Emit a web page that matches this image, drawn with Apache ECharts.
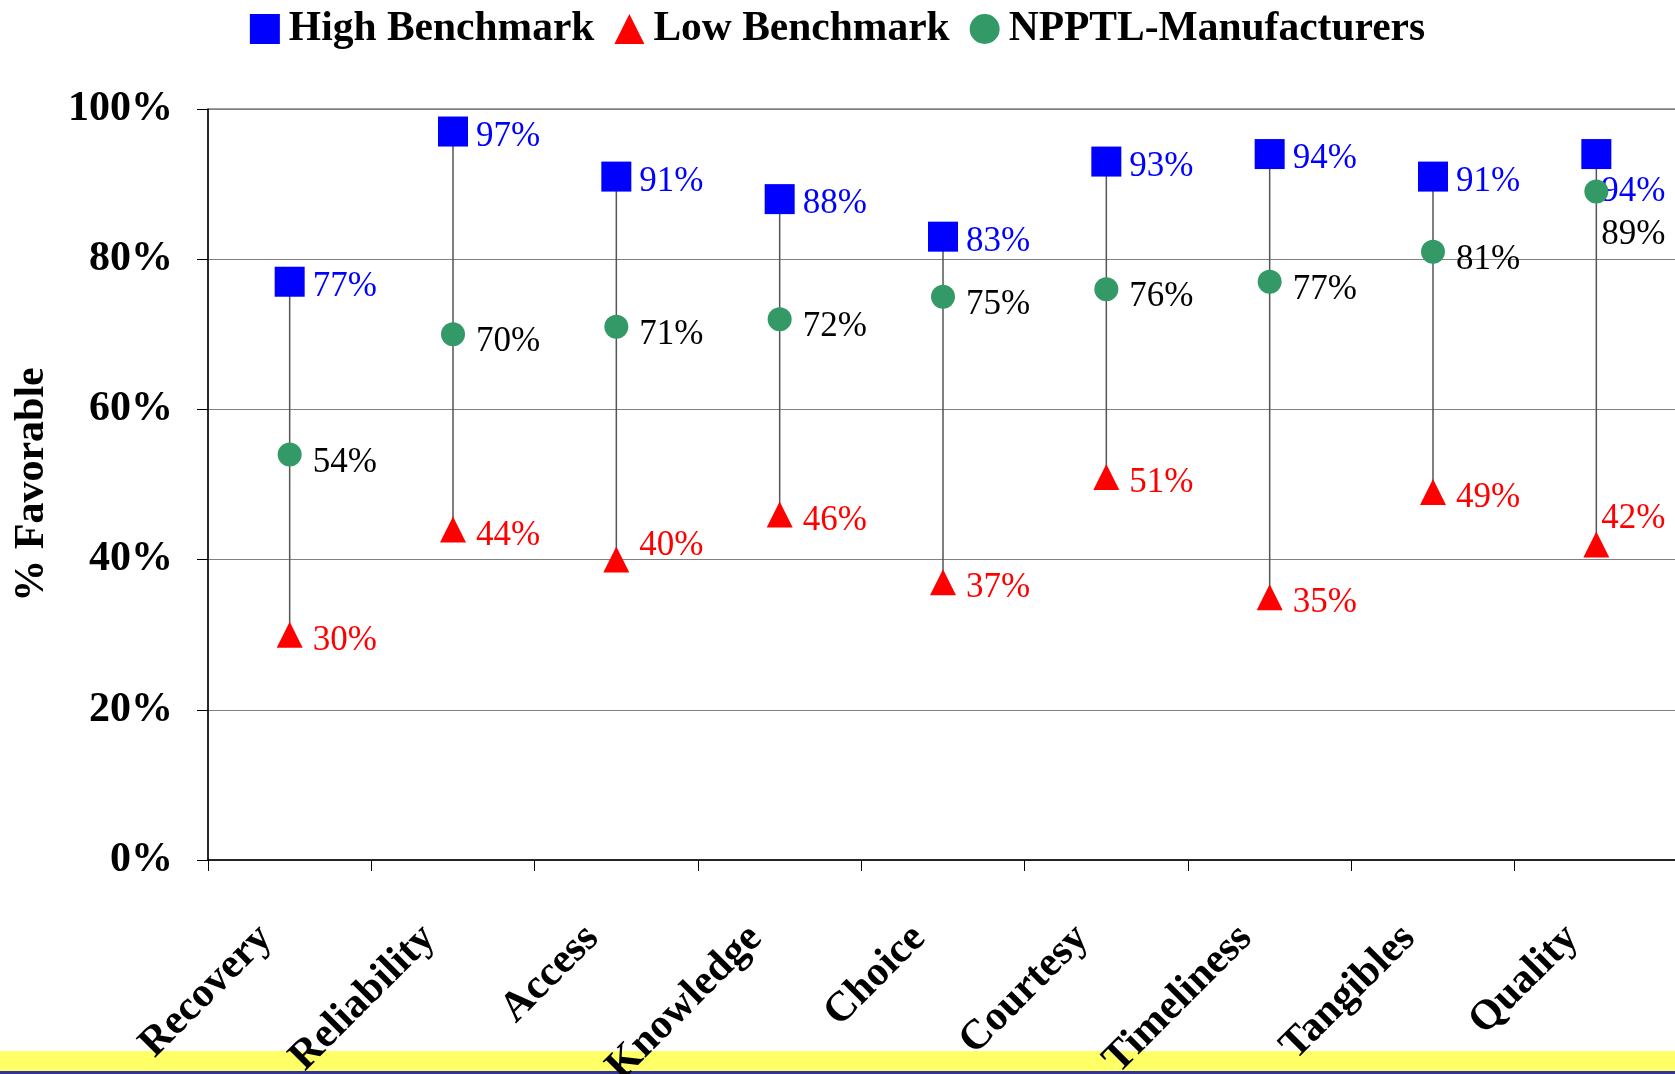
<!DOCTYPE html>
<html>
<head>
<meta charset="utf-8">
<script src="https://cdn.jsdelivr.net/npm/echarts@6/dist/echarts.min.js"></script>
<style>
    html, body { margin: 0; padding: 0; background: #fff; }
    #band { position: absolute; left: 0; top: 1051px; width: 1675px; height: 20px; background: #ffff66; }
    #band2 { position: absolute; left: 0; top: 1071px; width: 1675px; height: 3px; background: #333399; }
    #main { position: absolute; left: 0; top: 0; width: 1675px; height: 1074px; }
</style>
</head>
<body>
<div id="band"></div>
<div id="band2"></div>
<div id="main"></div>
<script>
var categories = ['Recovery', 'Reliability', 'Access', 'Knowledge', 'Choice', 'Courtesy', 'Timeliness', 'Tangibles', 'Quality'];
var highValues = [77, 97, 91, 88, 83, 93, 94, 91, 94];
var lowValues = [30, 44, 40, 46, 37, 51, 35, 49, 42];
var npptlValues = [54, 70, 71, 72, 75, 76, 77, 81, 89];
var yTicks = [0, 20, 40, 60, 80, 100];

var serif = '"Liberation Serif", "Times New Roman", serif';

window.onload = function () {
    var myChart = echarts.init(document.getElementById('main'), null, {renderer: 'canvas'});

    // some labels were moved by hand in the original, so they get their own offset
    var makeData = function (vals, moved) {
        return vals.map(function (v, i) {
            if (moved && moved[i]) {
                return {value: [i, v], label: {offset: moved[i]}};
            }
            return {value: [i, v]};
        });
    };

    var hiLo = categories.map(function (c, i) {
        return [i, lowValues[i], highValues[i]];
    });

    var option = {
        animation: false,
        legend: {
            top: 3,
            left: 'center',
            itemWidth: 30,
            itemHeight: 30,
            itemGap: 20,
            textStyle: {fontFamily: serif, fontWeight: 'bold', fontSize: 41.5, color: '#000', padding: [0, 0, 0, 4]},
            data: ['High Benchmark', 'Low Benchmark', 'NPPTL-Manufacturers']
        },
        grid: {
            left: 208, top: 109, right: -3, bottom: 214,
            outerBoundsMode: 'none',
            containLabel: false,
            show: true, borderColor: '#404040', borderWidth: 1
        },
        xAxis: {
            type: 'category',
            data: categories,
            axisLine: {lineStyle: {color: '#000', width: 1.5}},
            axisTick: {show: true, length: 11, lineStyle: {color: '#000', width: 1}},
            axisLabel: {
                rotate: 45, margin: 48, interval: 0,
                padding: [0, 34, 0, 0],
                fontFamily: serif, fontWeight: 'bold', fontSize: 42, color: '#000'
            },
            splitLine: {show: false}
        },
        yAxis: {
            type: 'value',
            min: 0, max: 100, interval: 20,
            name: '% Favorable',
            nameLocation: 'middle',
            nameGap: 155,
            nameRotate: 90,
            nameTextStyle: {fontFamily: serif, fontWeight: 'bold', fontSize: 42, color: '#000'},
            axisLine: {show: true, lineStyle: {color: '#000', width: 1.5}},
            axisTick: {show: true, length: 11, lineStyle: {color: '#000'}},
            axisLabel: {
                margin: 35,
                fontFamily: serif, fontWeight: 'bold', fontSize: 42, color: '#000',
                formatter: function (v) { return yTicks.indexOf(v) >= 0 ? v + '%' : ''; }
            },
            splitLine: {lineStyle: {color: '#808080', width: 1}}
        },
        series: [
            {
                type: 'custom',
                name: 'hilo',
                z: 1,
                silent: true,
                data: hiLo,
                encode: {x: 0, y: [1, 2]},
                renderItem: function (params, api) {
                    var p1 = api.coord([api.value(0), api.value(1)]);
                    var p2 = api.coord([api.value(0), api.value(2)]);
                    return {
                        type: 'line',
                        shape: {x1: p1[0], y1: p1[1], x2: p2[0], y2: p2[1]},
                        style: {stroke: '#555', lineWidth: 1.5}
                    };
                }
            },
            {
                type: 'scatter',
                name: 'High Benchmark',
                z: 3,
                symbol: 'rect',
                symbolSize: 30,
                itemStyle: {color: '#0000ff', opacity: 1},
                label: {
                    show: true, position: 'right', distance: 8, offset: [0, 5],
                    fontFamily: serif, fontSize: 35, color: '#0000ff',
                    formatter: function (p) { return p.value[1] + '%'; }
                },
                data: makeData(highValues, {8: [-18, 38]})
            },
            {
                type: 'scatter',
                name: 'Low Benchmark',
                z: 3,
                symbol: 'triangle',
                symbolSize: 26,
                itemStyle: {color: '#ff0000', opacity: 1},
                label: {
                    show: true, position: 'right', distance: 10, offset: [0, 6],
                    fontFamily: serif, fontSize: 35, color: '#ff0000',
                    formatter: function (p) { return p.value[1] + '%'; }
                },
                data: makeData(lowValues, {2: [0, -14], 8: [-18, -26]})
            },
            {
                type: 'scatter',
                name: 'NPPTL-Manufacturers',
                z: 4,
                symbol: 'circle',
                symbolSize: 24,
                itemStyle: {color: '#339966', opacity: 1},
                label: {
                    show: true, position: 'right', distance: 11, offset: [0, 8],
                    fontFamily: serif, fontSize: 35, color: '#000',
                    formatter: function (p) { return p.value[1] + '%'; }
                },
                data: makeData(npptlValues, {8: [-18, 43]})
            }
        ]
    };
    myChart.setOption(option);
};
</script>
</body>
</html>
